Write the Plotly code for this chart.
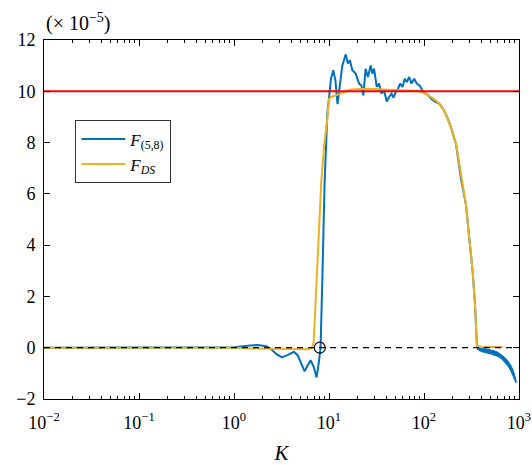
import plotly.graph_objects as go

# ---- data ----
blue_K = [0.01, 0.3, 1.0, 1.4, 1.77, 2.2, 2.5, 2.8, 3.2, 3.7, 4.27, 4.7, 5.1, 5.53, 5.9, 6.4, 6.9, 7.4, 7.8,
          8.15, 8.5, 9.0, 9.6, 10.0, 10.5, 11.1, 11.7, 12.3, 13.0, 13.8, 15.0, 15.8, 16.6, 17.6, 19.1, 20.7,
          21.9, 23.0, 24.3, 25.7, 27.5, 28.6, 29.8, 31.8, 33.6, 35.6, 38.0, 40.5, 42.9, 45.5, 47.7, 50.4,
          53.4, 56.0, 59.3, 62.7, 65.9, 69.7, 73.8, 78.7, 84.0, 91.0, 95.0, 100, 110, 120, 133, 145, 160,
          175, 192, 217, 245, 276, 299, 325, 344, 361]
blue_v = [0, 0, 0.02, 0.08, 0.11, 0.06, -0.08, -0.25, -0.38, -0.28, -0.16, -0.3, -0.65, -0.92, -0.72, -0.49,
          -0.75, -1.16, -0.6, 0.0, 2.6, 6.5, 9.1, 9.9, 10.5, 10.82, 10.4, 9.5, 10.3, 11.0, 11.44, 11.08,
          11.21, 10.82, 10.69, 10.3, 10.23, 9.84, 10.88, 10.56, 11.01, 10.69, 10.88, 10.17, 10.3, 9.91,
          10.04, 9.6, 9.78, 9.91, 9.75, 9.97, 10.1, 10.3, 10.17, 10.49, 10.36, 10.56, 10.3, 10.49, 10.3,
          10.2, 10.05, 9.95, 9.85, 9.7, 9.58, 9.52, 9.3, 9.0, 8.6, 7.95, 6.6, 5.6, 4.3, 3.0, 1.7, 0.05]

# noisy tail of F_(5,8): upper / lower envelope of the thick band
tail_K = [361, 400, 450, 500, 550, 600, 650, 700, 760, 820, 870, 929]
tail_upper = [0.05, -0.02, -0.05, -0.08, -0.12, -0.18, -0.26, -0.36, -0.5, -0.68, -0.88, -1.25]
tail_lower = [-0.05, -0.15, -0.2, -0.24, -0.28, -0.34, -0.42, -0.54, -0.7, -0.9, -1.1, -1.38]

orange_K = [0.01, 1.0, 1.5, 3.0, 6.1, 6.6, 6.9, 7.4, 7.85, 8.3, 8.9, 9.6, 10.0, 10.5, 12, 14, 17, 25, 35,
            50, 70, 92, 118, 139, 163, 192, 217, 245, 276, 299, 325, 344, 361, 400, 673]
orange_v = [0, 0, -0.03, -0.05, -0.06, -0.02, 0.2, 2.6, 4.6, 6.5, 7.9, 8.9, 9.7, 9.78, 9.85, 9.95, 10.07,
            10.1, 10.07, 10.03, 10.0, 10.0, 9.78, 9.58, 9.26, 8.61, 7.96, 6.7, 5.6, 4.3, 3.0, 1.7, 0.08,
            0.03, 0.03]

ref_level = 10
K_range = [0.01, 1000]
root_K = [8.0]
root_v = [0]

x_tickvals = [0.01, 0.1, 1, 10, 100, 1000]
x_ticktext = ["10<sup>\u22122</sup>", "10<sup>\u22121</sup>", "10<sup>0</sup>",
              "10<sup>1</sup>", "10<sup>2</sup>", "10<sup>3</sup>"]
y_tickvals = [-2, 0, 2, 4, 6, 8, 10, 12]

BLUE = "#0072BD"
ORANGE = "#EDB120"
FONT = "'Liberation Serif', 'Times New Roman', Times, serif"

fig = go.Figure()

# tail band (blue)
fig.add_trace(go.Scatter(x=tail_K + tail_K[::-1], y=tail_upper + tail_lower[::-1],
                         fill="toself", fillcolor=BLUE, mode="lines",
                         line=dict(color=BLUE, width=1), showlegend=False, hoverinfo="skip"))
fig.add_trace(go.Scatter(x=blue_K, y=blue_v, mode="lines", line=dict(color=BLUE, width=2),
                         name="<i>F</i><sub>(5,8)</sub>"))
fig.add_trace(go.Scatter(x=orange_K, y=orange_v, mode="lines", line=dict(color=ORANGE, width=2),
                         name="<i>F</i><sub><i>DS</i></sub>"))
fig.add_trace(go.Scatter(x=K_range, y=[ref_level, ref_level], mode="lines",
                         line=dict(color="#FF0000", width=2), showlegend=False))
fig.add_trace(go.Scatter(x=K_range, y=[0, 0], mode="lines",
                         line=dict(color="black", width=1.3, dash="6px,5px"), showlegend=False))
fig.add_trace(go.Scatter(x=root_K, y=root_v, mode="markers",
                         marker=dict(symbol="circle-open", size=11, color="black", line=dict(width=1.2)),
                         showlegend=False))

fig.update_layout(
    width=532, height=465,
    margin=dict(l=44, r=13, t=40, b=66, autoexpand=False),
    paper_bgcolor="white", plot_bgcolor="white",
    font=dict(family=FONT, size=18, color="black"),
    showlegend=True,
    legend=dict(x=0.066, y=0.776, xanchor="left", yanchor="top",
                bordercolor="#333333", borderwidth=1, bgcolor="white",
                font=dict(family=FONT, size=17), tracegroupgap=0, itemwidth=44),
    xaxis=dict(type="log", range=[-2, 3], tickvals=x_tickvals, ticktext=x_ticktext,
               ticks="inside", ticklen=6, tickcolor="black", linecolor="black", linewidth=1,
               mirror="allticks", showline=True, showgrid=False, zeroline=False,
               ticklabelstandoff=7, automargin=False,
               minor=dict(ticks="inside", ticklen=3, tickcolor="black", dtick="D1", showgrid=False),
               title=dict(text="<i>K</i>", font=dict(family=FONT, size=21), standoff=18),
               tickfont=dict(family=FONT, size=18)),
    yaxis=dict(range=[-2, 12], tickvals=y_tickvals,
               ticks="inside", ticklen=6, tickcolor="black", linecolor="black", linewidth=1,
               mirror="allticks", showline=True, showgrid=False, zeroline=False,
               ticklabelstandoff=4, automargin=False,
               tickfont=dict(family=FONT, size=18)),
    annotations=[dict(text="(\u00d7 10<sup>\u22125</sup>)", xref="paper", yref="paper",
                      x=0.0, y=1.0, xanchor="left", yanchor="bottom", yshift=3, showarrow=False,
                      font=dict(family=FONT, size=20))],
)

fig.write_html("out.html")
